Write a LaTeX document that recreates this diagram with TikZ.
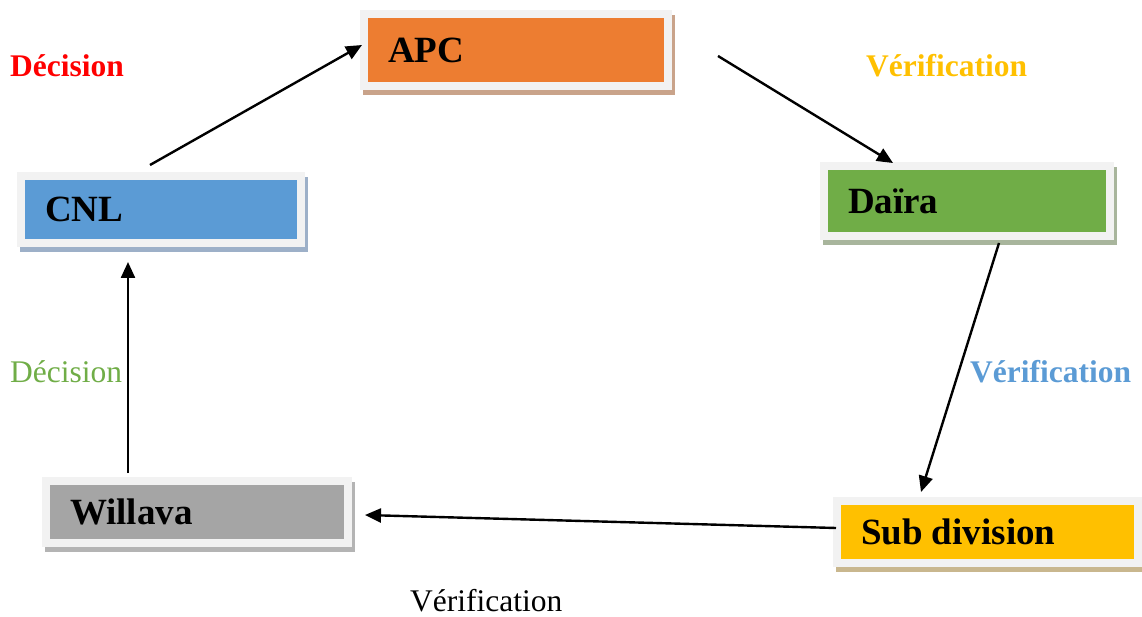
\documentclass[tikz,border=0pt]{standalone}
\usepackage{fontspec}
\setmainfont{Liberation Serif}
\usetikzlibrary{arrows.meta,backgrounds,calc}
\definecolor{framegray}{HTML}{F2F2F2}
\definecolor{cOrange}{HTML}{ED7D31}
\definecolor{cBlue}{HTML}{5B9BD5}
\definecolor{cGreen}{HTML}{70AD47}
\definecolor{cGray}{HTML}{A5A5A5}
\definecolor{cGold}{HTML}{FFC000}
\definecolor{shOrange}{HTML}{C9A38A}
\definecolor{shBlue}{HTML}{9DB0C8}
\definecolor{shGreen}{HTML}{A8B59C}
\definecolor{shGray}{HTML}{B4B4B4}
\definecolor{shGold}{HTML}{C9B78E}
\begin{document}
\begin{tikzpicture}[x=1pt,y=-1pt,
  boxnode/.style={draw=framegray, line width=8pt, inner xsep=24pt, inner ysep=0pt,
    font=\bfseries\fontsize{37}{40}\selectfont, align=flush left},
  lbl/.style={inner sep=0pt, anchor=base west, font=\fontsize{31.5}{34}\selectfont},
  blbl/.style={lbl, font=\bfseries\fontsize{31.5}{34}\selectfont},
  arr/.style={-{Triangle[length=16pt,width=14pt]}, line width=2.4pt, black}]
\useasboundingbox (0,0) rectangle (1142,617);

% boxes
\node[boxnode, fill=cOrange, text width=256pt, minimum height=72pt] (apc) at (516,50) {APC};
\node[boxnode, fill=cBlue, text width=232pt, minimum height=67pt] (cnl) at (161,209.5) {CNL};
\node[boxnode, fill=cGreen, text width=238pt, minimum height=70pt] (daira) at (967,201) {Daïra};
\node[boxnode, fill=cGold, text width=253pt, minimum height=62pt] (sub) at (987.5,532) {Sub division};
\node[boxnode, fill=cGray, text width=254pt, minimum height=62pt] (wil) at (197,512) {Willava};

% shadows
\begin{scope}[on background layer]
  \fill[shOrange] ($(apc.south west)+(3,5)$) rectangle ($(apc.north east)+(3,5)$);
  \fill[shBlue] ($(cnl.south west)+(3,5)$) rectangle ($(cnl.north east)+(3,5)$);
  \fill[shGreen] ($(daira.south west)+(3,5)$) rectangle ($(daira.north east)+(3,5)$);
  \fill[shGold] ($(sub.south west)+(3,5)$) rectangle ($(sub.north east)+(3,5)$);
  \fill[shGray] ($(wil.south west)+(3,5)$) rectangle ($(wil.north east)+(3,5)$);
\end{scope}

% connectors
\draw[arr] ($(cnl.north)+(-11,-7)$) -- ($(apc.west)+(2,-5)$);
\draw[arr] ($(apc.east)+(46,6)$) -- ($(daira.north)+(-74,1)$);
\draw[arr] ($(daira.south)+(32,3)$) -- ($(sub.north)+(-66.5,-5)$);
\draw[arr] ($(sub.west)+(3,-4)$) -- ($(wil.east)+(13,3)$);
\draw[arr] ($(wil.north)+(-69,-4)$) -- ($(cnl.south)+(-33,15)$);

% labels
\node[blbl, text=red] (l1) at (10,77) {Décision};
\node[blbl, text=cGold] (l2) at (866,77) {Vérification};
\node[blbl, text=cBlue] (l3) at (970,382) {Vérification};
\node[lbl, text=cGreen] (l4) at (10,382) {Décision};
\node[lbl, text=black] (l5) at (410,611) {Vérification};
\end{tikzpicture}
\end{document}
